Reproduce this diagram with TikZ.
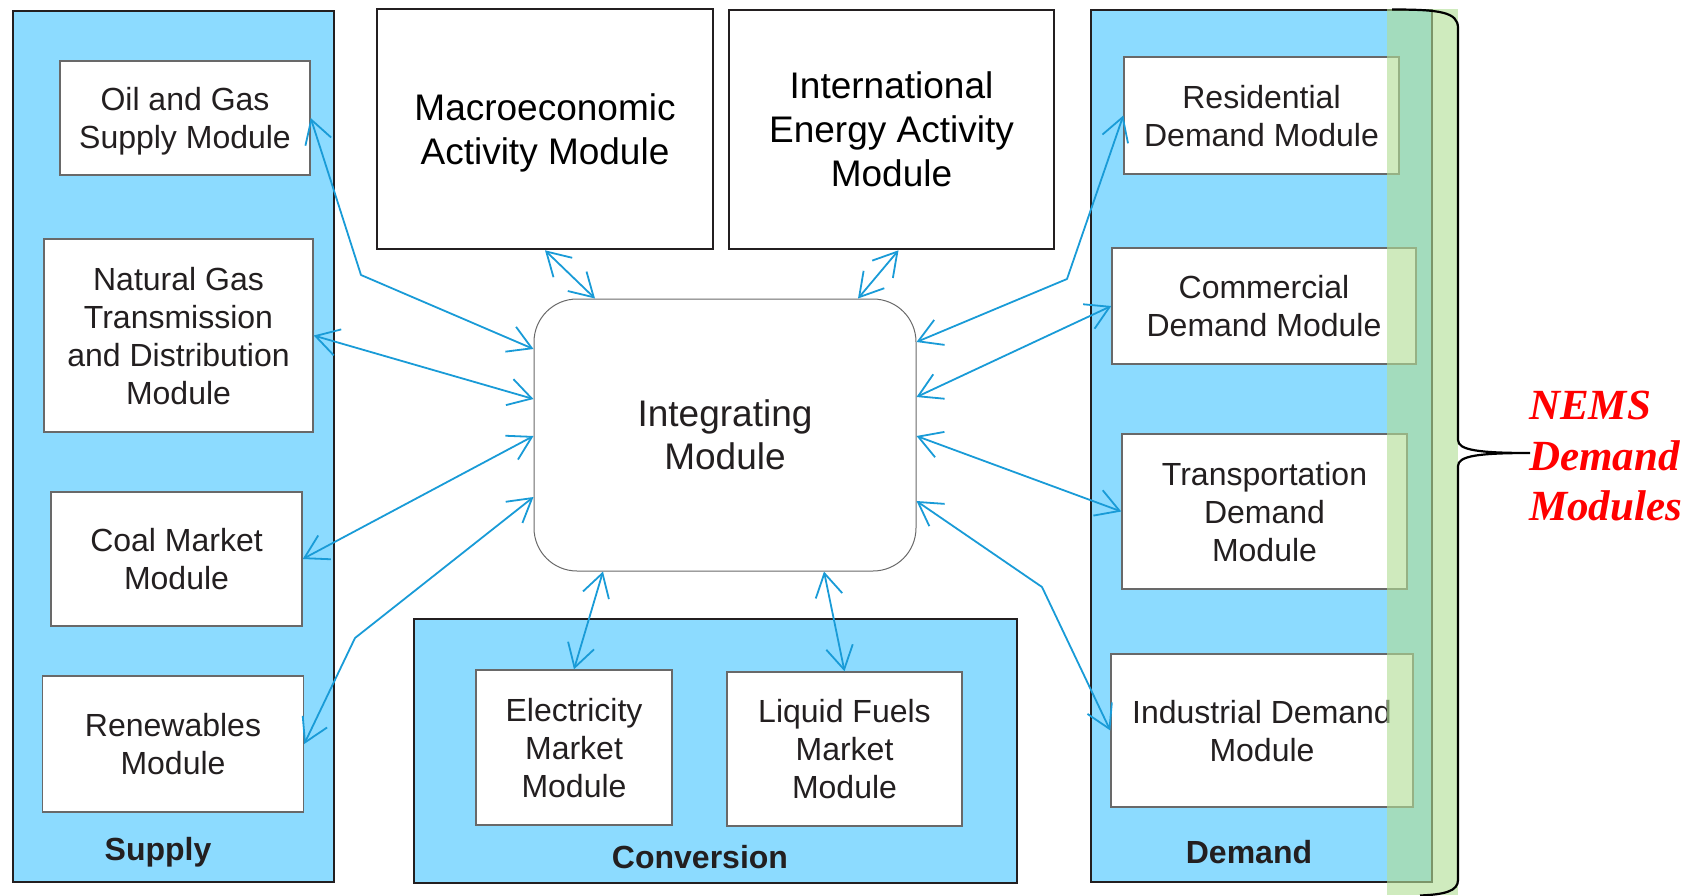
\documentclass[tikz,border=0pt]{standalone}
\usepackage{fontspec}
\setmainfont{Liberation Sans}
\newfontfamily\nemsfont{Liberation Serif}
\usetikzlibrary{arrows.meta,calc}
\definecolor{panelblue}{RGB}{140,219,255}
\definecolor{arrowblue}{RGB}{25,155,215}
\definecolor{stripgreen}{RGB}{178,222,150}
\definecolor{ink}{RGB}{35,31,32}
\definecolor{boxgray}{RGB}{105,105,105}
\definecolor{nemsred}{RGB}{255,0,0}
\begin{document}
\begin{tikzpicture}[x=1pt,y=-1pt,
  panel/.style={draw=ink, line width=2.6pt, fill=panelblue, inner sep=0pt},
  topbox/.style={draw=ink, line width=2.6pt, fill=white, inner sep=0pt, align=center,
    text=black, text depth=0pt, font=\fontsize{37}{44}\selectfont},
  modbox/.style={draw=boxgray, line width=1.4pt, fill=white, inner sep=0pt, align=center,
    text=ink, text depth=0pt, font=\fontsize{32}{38}\selectfont},
  integbox/.style={draw=boxgray, line width=1pt, fill=white, rounded corners=43pt,
    inner sep=0pt, align=center, text=ink, text depth=0pt, font=\fontsize{37}{43}\selectfont},
  plabel/.style={inner sep=0pt, text=ink, font=\fontsize{32}{38}\selectfont\bfseries},
  link/.style={draw=arrowblue, line width=1.8pt, line join=round,
    >={Straight Barb[length=23pt,width=27pt]}, <->},
  bracestyle/.style={draw=black, line width=2.2pt},
  nemstext/.style={inner sep=0pt, align=left, text=nemsred,
    font=\nemsfont\fontsize{43}{50.5}\selectfont\bfseries\itshape}
]
\useasboundingbox (0,0) rectangle (1698,895);

% ---- panels ----
\node[panel, minimum width=321pt, minimum height=871pt] (supply) at (173.5,446.5) {};
\node[panel, minimum width=603pt, minimum height=264pt] (conversion) at (715.5,751) {};
\node[panel, minimum width=341pt, minimum height=872pt] (demand) at (1261.5,446) {};

\node[plabel] (supplylbl) at (158,852) {Supply};
\node[plabel] (convlbl) at (700,857) {Conversion};
\node[plabel] (demandlbl) at (1249,852) {Demand};

% ---- top boxes ----
\node[topbox, minimum width=336pt, minimum height=240pt] (macro) at (545,129)
  {Macroeconomic\\Activity Module};
\node[topbox, minimum width=325pt, minimum height=239pt] (intl) at (891.5,129.5)
  {International\\Energy Activity\\Module};

% ---- integrating ----
\node[integbox, minimum width=382pt, minimum height=272pt] (integ) at (725,435)
  {Integrating\\Module};

% ---- supply modules ----
\node[modbox, minimum width=250pt, minimum height=114pt] (oil) at (185,118)
  {Oil and Gas\\Supply Module};
\node[modbox, minimum width=269pt, minimum height=193pt] (natgas) at (178.5,335.5)
  {Natural Gas\\Transmission\\and Distribution\\Module};
\node[modbox, minimum width=251pt, minimum height=134pt] (coal) at (176.5,559)
  {Coal Market\\Module};
\node[modbox, minimum width=261pt, minimum height=136pt] (renew) at (173,744)
  {Renewables\\Module};

% ---- conversion modules ----
\node[modbox, minimum width=196pt, minimum height=155pt] (elec) at (574,747.5)
  {Electricity\\Market\\Module};
\node[modbox, minimum width=235pt, minimum height=154pt] (liquid) at (844.5,749)
  {Liquid Fuels\\Market\\Module};

% ---- demand modules ----
\node[modbox, minimum width=275pt, minimum height=117pt] (resid) at (1261.5,115.5)
  {Residential\\Demand Module};
\node[modbox, minimum width=304pt, minimum height=116pt] (comm) at (1264,306)
  {Commercial\\Demand Module};
\node[modbox, minimum width=285pt, minimum height=155pt] (transp) at (1264.5,511.5)
  {Transportation\\Demand\\Module};
\node[modbox, minimum width=302pt, minimum height=153pt] (indus) at (1262,730.5)
  {Industrial Demand\\Module};

% ---- green demand strip and brace ----
\fill[stripgreen, fill opacity=0.62] (1387,9) rectangle (1458,895);
\draw[bracestyle] (1392,9.5) .. controls (1440,9.5) and (1458,12) .. (1458,28)
  -- (1458,440) .. controls (1458,450) and (1478,453) .. (1530,453)
  .. controls (1478,453) and (1458,456) .. (1458,466)
  -- (1458,880) .. controls (1458,891) and (1445,894.5) .. (1420,895.5);
\node[nemstext, anchor=north west] (nems) at (1529,391) {NEMS\\Demand\\Modules};

% ---- bend points ----
\coordinate (b1) at (361,275);
\coordinate (b4) at (355,638);
\coordinate (b7) at (1067,279);
\coordinate (b10) at (1042,587);

% ---- connectors ----
\draw[link] (oil.east) -- (b1) -- ($(integ.west)+(0,-86)$);
\draw[link] (natgas.east) -- ($(integ.west)+(0,-36)$);
\draw[link] ($(integ.west)+(0,1)$) -- (coal.east);
\draw[link] ($(integ.west)+(0,62)$) -- (b4) -- (renew.east);
\draw[link] (macro.south) -- ($(integ.north)+(-130,0)$);
\draw[link] ($(intl.south)+(7,0)$) -- ($(integ.north)+(133,0)$);
\draw[link] ($(integ.east)+(0,-93)$) -- (b7) -- (resid.west);
\draw[link] ($(integ.east)+(0,-38)$) -- (comm.west);
\draw[link] ($(integ.east)+(0,1)$) -- (transp.west);
\draw[link] ($(integ.east)+(0,66)$) -- (b10) -- (indus.west);
\draw[link] ($(integ.south)+(-122,0)$) -- (elec.north);
\draw[link] ($(integ.south)+(99,0)$) -- (liquid.north);
\end{tikzpicture}
\end{document}
